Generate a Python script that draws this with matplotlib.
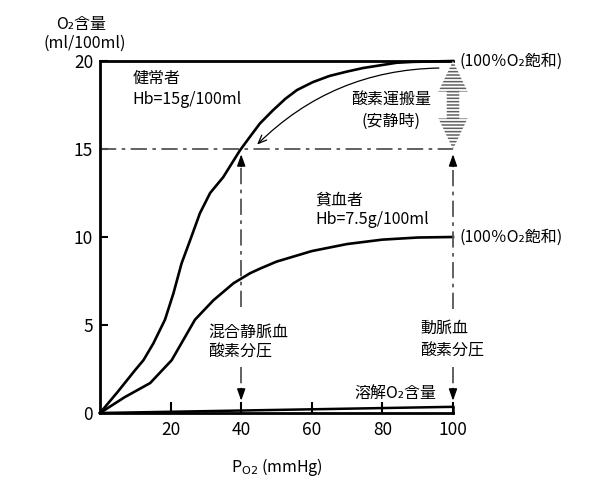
import matplotlib
matplotlib.use("Agg")
import matplotlib.pyplot as plt
from matplotlib.patches import FancyArrowPatch

plt.rcParams["font.family"] = ["Noto Sans CJK JP", "DejaVu Sans"]
plt.rcParams["hatch.linewidth"] = 1.1

# -------------------------
# データ (Po2 mmHg / O2 ml/100ml)
# -------------------------

po2_healthy = [0, 5, 10, 12.3, 15.1, 18.4, 20.8, 23.1, 25.5, 28.3, 31.2, 34.9,
               39.7, 42.5, 45.3, 49, 52.5, 55.8, 60.3, 65, 70, 74.5, 84, 88.7, 100]
o2_healthy = [0, 1.2, 2.45, 3.0, 3.95, 5.3, 6.8, 8.5, 9.8, 11.35, 12.5, 13.4,
              14.94, 15.7, 16.45, 17.2, 17.85, 18.35, 18.8, 19.15, 19.4, 19.6, 19.9, 19.95, 20]

po2_anemia = [0, 7, 14.2, 20.3, 23.6, 26.9, 32.1, 37.8, 42.5, 45.3, 50, 60, 70, 80, 90, 100]
o2_anemia = [0, 0.9, 1.7, 3.0, 4.15, 5.3, 6.4, 7.37, 7.94, 8.2, 8.6, 9.2, 9.6, 9.85, 9.97, 10]

po2_dissolved = [0, 100]
o2_dissolved = [0, 0.35]

venous_po2 = 40
arterial_po2 = 100
venous_o2 = 15
saturated_o2 = 20

x_ticks = [20, 40, 60, 80, 100]
y_ticks = [0, 5, 10, 15, 20]

FS = 11.5
GRAY = "#555555"
DASHDOT = (0, (9, 3, 2, 3))

# -------------------------
# 図の作成
# -------------------------

fig = plt.figure(figsize=(6, 4.78), dpi=100)
ax = fig.add_axes([0.1667, 0.136, 0.5883, 0.7364])

ax.set_xlim(0, 100)
ax.set_ylim(0, 20)

for side in ["left", "bottom", "top"]:
    ax.spines[side].set_linewidth(2.0)
ax.spines["right"].set_visible(False)

ax.set_xticks(x_ticks)
ax.set_yticks(y_ticks)
ax.tick_params(axis="x", direction="in", length=8, width=1.5, pad=6, labelsize=FS + 1)
ax.tick_params(axis="y", direction="in", length=6, width=1.5, pad=5, labelsize=FS + 1)

# =====================
# 曲線
# =====================

ax.plot(po2_healthy, o2_healthy, color="black", lw=1.9, clip_on=False)
ax.plot(po2_anemia, o2_anemia, color="black", lw=1.9, clip_on=False)
ax.plot(po2_dissolved, o2_dissolved, color="black", lw=1.8, clip_on=False)
ax.plot([po2_dissolved[-1]] * 2, [0, o2_dissolved[-1]], color="black", lw=1.8, clip_on=False)

# =====================
# 一点鎖線 + 矢印
# =====================

ax.plot([0, arterial_po2], [venous_o2, venous_o2], color=GRAY, lw=1.3, linestyle=DASHDOT)

for xv, top_gap in [(venous_po2, 6.0), (arterial_po2, 5.9)]:
    ax.plot([xv, xv], [top_gap, venous_o2 - 0.9], color=GRAY, lw=1.3,
            linestyle=DASHDOT, clip_on=False)
    ax.plot([xv, xv], [2.6, 1.2], color=GRAY, lw=1.3,
            linestyle=DASHDOT, clip_on=False)
    ax.annotate("", xy=(xv, venous_o2 - 0.3), xytext=(xv, venous_o2 - 1.0),
                arrowprops=dict(arrowstyle="-|>,head_length=0.7,head_width=0.25",
                                color="black", lw=1.0, shrinkA=0, shrinkB=0),
                annotation_clip=False)
    ax.annotate("", xy=(xv, 0.7), xytext=(xv, 1.4),
                arrowprops=dict(arrowstyle="-|>,head_length=0.7,head_width=0.25",
                                color="black", lw=1.0, shrinkA=0, shrinkB=0),
                annotation_clip=False)

# =====================
# 酸素運搬量 (縞の両矢印)
# =====================

mid = (saturated_o2 + venous_o2) / 2
for end in [saturated_o2, venous_o2]:
    arr = FancyArrowPatch(
        (arterial_po2, mid), (arterial_po2, end),
        arrowstyle="simple,head_length=22,head_width=21,tail_width=9",
        mutation_scale=1, shrinkA=0, shrinkB=0,
        facecolor="white", edgecolor="#606060", hatch="-----", lw=0,
        clip_on=False, zorder=3,
    )
    ax.add_patch(arr)

# 細い曲線矢印
ax.annotate("", xy=(44.5, 15.25), xytext=(96, 19.6),
            arrowprops=dict(arrowstyle="->,head_length=0.6,head_width=0.25",
                            connectionstyle="arc3,rad=0.2",
                            color="black", lw=0.9, shrinkA=0, shrinkB=0))

# =====================
# 文字
# =====================

ax.text(9.3, 19.0, "健常者", fontsize=FS, va="center", ha="left")
ax.text(9.3, 17.8, "Hb=15g/100ml", fontsize=FS, va="center", ha="left")
ax.text(60.9, 12.1, "貧血者", fontsize=FS, va="center", ha="left")
ax.text(60.9, 11.0, "Hb=7.5g/100ml", fontsize=FS, va="center", ha="left")
ax.text(82.5, 17.8, "酸素運搬量", fontsize=FS, va="center", ha="center")
ax.text(82.5, 16.55, "(安静時)", fontsize=FS, va="center", ha="center")
ax.text(30.6, 4.55, "混合静脈血", fontsize=FS, va="center", ha="left")
ax.text(30.6, 3.45, "酸素分圧", fontsize=FS, va="center", ha="left")
ax.text(90.8, 4.8, "動脈血", fontsize=FS, va="center", ha="left")
ax.text(90.8, 3.5, "酸素分圧", fontsize=FS, va="center", ha="left")
ax.text(72.2, 1.13, "溶解O₂含量", fontsize=FS, va="center", ha="left")
ax.text(101.8, 20.0, "(100％O₂飽和)", fontsize=FS, va="center", ha="left", clip_on=False)
ax.text(101.8, 10.0, "(100％O₂飽和)", fontsize=FS, va="center", ha="left", clip_on=False)

ax.text(-5.4, 22.05, "O₂含量", fontsize=FS, va="center", ha="center", clip_on=False)
ax.text(-4.3, 21.0, "(ml/100ml)", fontsize=FS, va="center", ha="center", clip_on=False)

ax.set_xlabel(r"P$_{\mathrm{O2}}$ (mmHg)", fontsize=FS, labelpad=12)

fig.savefig("out.png", dpi=100)
plt.close(fig)
